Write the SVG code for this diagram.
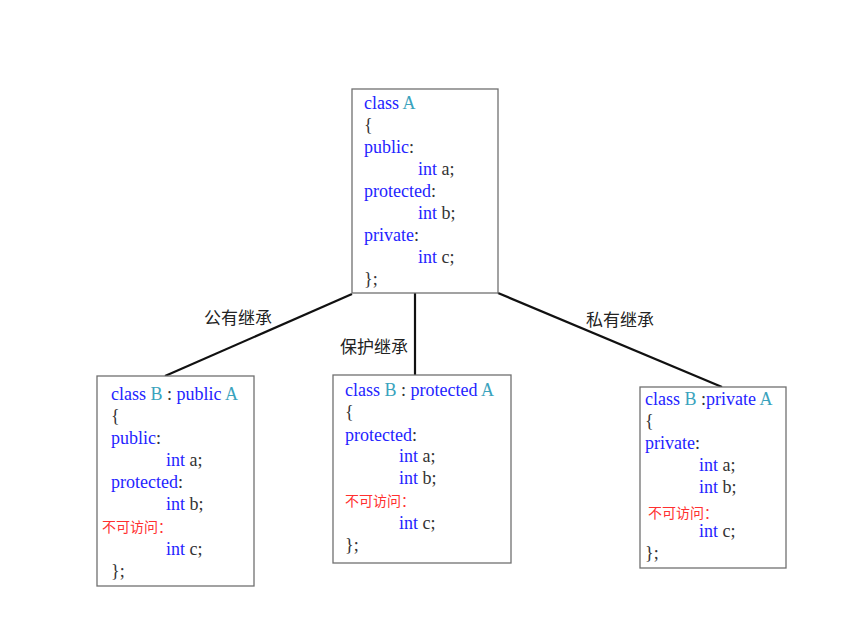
<svg xmlns="http://www.w3.org/2000/svg" width="864" height="644" viewBox="0 0 864 644">
<style>
.box{fill:#fff;stroke:#707070;stroke-width:1.3}
.code{font-family:"Liberation Serif","Times New Roman",serif;font-size:18px;fill:#2424ff}
.n{fill:#3aa3bd}
.d{fill:#333}
.r{font-family:"Noto Sans CJK SC","Liberation Sans",sans-serif;font-size:14px;fill:#ff3030}
.lbl{font-family:"Noto Sans CJK SC","Liberation Sans",sans-serif;font-size:17px;fill:#222}
.con{stroke:#111;stroke-width:2.2;fill:none}
</style>
<rect width="864" height="644" fill="#fff"/>
<g id="connectors">
<line class="con" x1="352" y1="294" x2="165" y2="376"/>
<line class="con" x1="415" y1="293" x2="415" y2="375"/>
<line class="con" x1="498" y1="293" x2="722" y2="387"/>
<text class="lbl" x="238" y="324" text-anchor="middle">公有继承</text>
<text class="lbl" x="374" y="353" text-anchor="middle">保护继承</text>
<text class="lbl" x="620" y="326" text-anchor="middle">私有继承</text>
</g>
<g id="classA">
<rect class="box" x="352" y="89" width="146" height="204"/>
<text class="code" x="364" y="109">class <tspan class="n">A</tspan></text>
<text class="code d" x="364" y="131">{</text>
<text class="code" x="364" y="153">public<tspan class="d">:</tspan></text>
<text class="code" x="418" y="175">int <tspan class="d">a;</tspan></text>
<text class="code" x="364" y="197">protected<tspan class="d">:</tspan></text>
<text class="code" x="418" y="219">int <tspan class="d">b;</tspan></text>
<text class="code" x="364" y="241">private<tspan class="d">:</tspan></text>
<text class="code" x="418" y="263">int <tspan class="d">c;</tspan></text>
<text class="code d" x="364" y="285">};</text>
</g>
<g id="classB_public">
<rect class="box" x="97" y="376" width="157" height="210"/>
<text class="code" x="111" y="400">class <tspan class="n">B</tspan><tspan class="d"> : </tspan>public <tspan class="n">A</tspan></text>
<text class="code d" x="111" y="422">{</text>
<text class="code" x="111" y="444">public<tspan class="d">:</tspan></text>
<text class="code" x="166" y="466">int <tspan class="d">a;</tspan></text>
<text class="code" x="111" y="488">protected<tspan class="d">:</tspan></text>
<text class="code" x="166" y="510">int <tspan class="d">b;</tspan></text>
<text class="r" x="102" y="532">不可访问：</text>
<text class="code" x="166" y="555">int <tspan class="d">c;</tspan></text>
<text class="code d" x="111" y="577">};</text>
</g>
<g id="classB_protected">
<rect class="box" x="333" y="375" width="178" height="188"/>
<text class="code" x="345" y="396">class <tspan class="n">B</tspan><tspan class="d"> : </tspan>protected <tspan class="n">A</tspan></text>
<text class="code d" x="345" y="418">{</text>
<text class="code" x="345" y="441">protected<tspan class="d">:</tspan></text>
<text class="code" x="399" y="462">int <tspan class="d">a;</tspan></text>
<text class="code" x="399" y="484">int <tspan class="d">b;</tspan></text>
<text class="r" x="345" y="506">不可访问：</text>
<text class="code" x="399" y="529">int <tspan class="d">c;</tspan></text>
<text class="code d" x="345" y="551">};</text>
</g>
<g id="classB_private">
<rect class="box" x="640" y="387" width="146" height="181"/>
<text class="code" x="645" y="405">class <tspan class="n">B</tspan><tspan class="d"> :</tspan>private <tspan class="n">A</tspan></text>
<text class="code d" x="645" y="427">{</text>
<text class="code" x="645" y="449">private<tspan class="d">:</tspan></text>
<text class="code" x="699" y="471">int <tspan class="d">a;</tspan></text>
<text class="code" x="699" y="493">int <tspan class="d">b;</tspan></text>
<text class="r" x="648" y="518">不可访问：</text>
<text class="code" x="699" y="537">int <tspan class="d">c;</tspan></text>
<text class="code d" x="645" y="559">};</text>
</g>
</svg>
